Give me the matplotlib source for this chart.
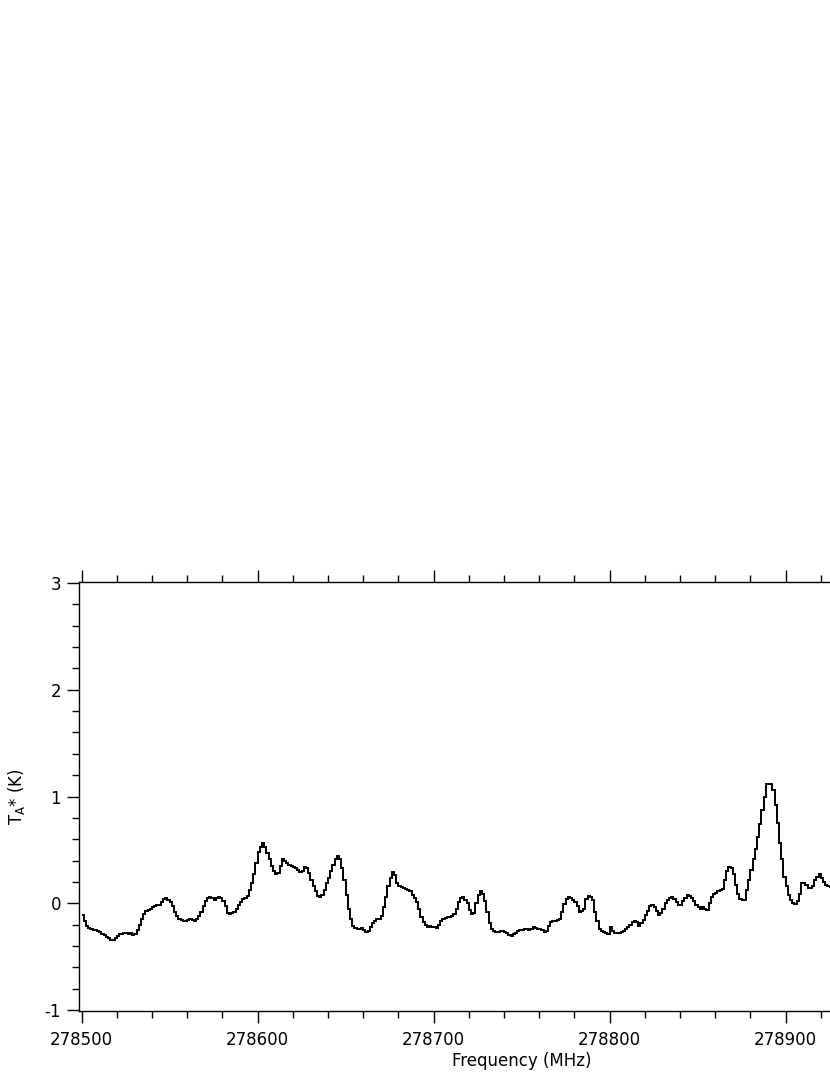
import numpy as np
import matplotlib.pyplot as plt
from matplotlib.ticker import MultipleLocator, FuncFormatter

plt.rcParams['font.family'] = ['DejaVu Sans']
plt.rcParams['axes.unicode_minus'] = False

# spectrum: first channel edge (MHz), channel width (MHz), antenna temperature (K)
f_start = 278500.0
chan_width = 1.25
ta = [
    -0.11, -0.17, -0.21, -0.23, -0.24, -0.25, -0.25, -0.26,
    -0.27, -0.29, -0.30, -0.32, -0.33, -0.34, -0.34, -0.33,
    -0.31, -0.29, -0.29, -0.28, -0.28, -0.29, -0.28, -0.30,
    -0.29, -0.25, -0.20, -0.15, -0.10, -0.07, -0.06, -0.05,
    -0.04, -0.03, -0.02, -0.02, 0.01, 0.04, 0.05, 0.03,
    0.01, -0.03, -0.08, -0.12, -0.15, -0.16, -0.17, -0.17,
    -0.16, -0.15, -0.16, -0.17, -0.15, -0.12, -0.08, -0.03,
    0.02, 0.05, 0.06, 0.05, 0.03, 0.05, 0.06, 0.05,
    0.02, -0.03, -0.09, -0.10, -0.09, -0.08, -0.05, -0.02,
    0.01, 0.04, 0.05, 0.07, 0.12, 0.19, 0.27, 0.38,
    0.48, 0.53, 0.56, 0.53, 0.47, 0.41, 0.35, 0.30,
    0.27, 0.28, 0.35, 0.41, 0.40, 0.38, 0.36, 0.35,
    0.34, 0.33, 0.31, 0.29, 0.30, 0.34, 0.33, 0.28,
    0.22, 0.16, 0.11, 0.07, 0.06, 0.08, 0.12, 0.19,
    0.24, 0.30, 0.36, 0.41, 0.44, 0.41, 0.33, 0.22,
    0.08, -0.05, -0.15, -0.21, -0.23, -0.24, -0.24, -0.23,
    -0.25, -0.27, -0.26, -0.22, -0.19, -0.17, -0.15, -0.15,
    -0.12, -0.04, 0.06, 0.16, 0.24, 0.29, 0.26, 0.19,
    0.16, 0.15, 0.14, 0.13, 0.12, 0.11, 0.08, 0.05,
    0.01, -0.05, -0.13, -0.18, -0.20, -0.22, -0.21, -0.22,
    -0.22, -0.23, -0.20, -0.17, -0.15, -0.14, -0.13, -0.13,
    -0.12, -0.10, -0.05, 0.01, 0.05, 0.06, 0.03, 0.00,
    -0.06, -0.10, -0.09, 0.00, 0.08, 0.11, 0.09, 0.02,
    -0.08, -0.19, -0.24, -0.26, -0.27, -0.27, -0.26, -0.26,
    -0.27, -0.28, -0.30, -0.31, -0.29, -0.28, -0.26, -0.25,
    -0.25, -0.24, -0.24, -0.25, -0.24, -0.22, -0.23, -0.24,
    -0.24, -0.25, -0.27, -0.26, -0.21, -0.18, -0.17, -0.17,
    -0.16, -0.15, -0.08, -0.01, 0.04, 0.06, 0.05, 0.03,
    0.01, -0.03, -0.08, -0.07, -0.05, 0.04, 0.07, 0.06,
    0.03, -0.08, -0.17, -0.24, -0.26, -0.27, -0.28, -0.29,
    -0.22, -0.26, -0.28, -0.28, -0.28, -0.27, -0.26, -0.24,
    -0.22, -0.20, -0.18, -0.17, -0.18, -0.21, -0.19, -0.16,
    -0.11, -0.07, -0.03, -0.02, -0.04, -0.07, -0.11, -0.09,
    -0.05, 0.00, 0.03, 0.05, 0.06, 0.04, 0.01, -0.02,
    -0.02, 0.02, 0.05, 0.08, 0.07, 0.05, 0.02, -0.02,
    -0.04, -0.05, -0.04, -0.05, -0.06, 0.00, 0.06, 0.09,
    0.10, 0.11, 0.12, 0.13, 0.22, 0.30, 0.34, 0.33,
    0.27, 0.17, 0.09, 0.04, 0.03, 0.03, 0.12, 0.22,
    0.31, 0.41, 0.51, 0.62, 0.74, 0.87, 1.00, 1.12,
    1.12, 1.12, 1.06, 0.92, 0.75, 0.56, 0.41, 0.25,
    0.16, 0.08, 0.03, 0.00, -0.01, 0.02, 0.09, 0.19,
    0.19, 0.17, 0.14, 0.14, 0.16, 0.22, 0.25, 0.27,
    0.24, 0.20, 0.17, 0.16, 0.15, 0.15, 0.15, 0.15,
]

ta = np.array(ta)
edges = f_start + chan_width * np.arange(len(ta) + 1)

fig = plt.figure(figsize=(8.3, 10.75), dpi=100)
# the panel runs to 279000 MHz, the right part is cut off the page
ax = fig.add_axes([79 / 830, 1 - 1011 / 1075, 886 / 830, 429 / 1075])

ax.stairs(ta, edges, baseline=None, color='black', lw=1.4)

ax.set_xlim(278498.5, 279001.9)
ax.set_ylim(-1.01, 3.01)

ax.xaxis.set_major_locator(MultipleLocator(100))
ax.xaxis.set_minor_locator(MultipleLocator(20))
ax.yaxis.set_major_locator(MultipleLocator(1))
ax.yaxis.set_minor_locator(MultipleLocator(0.2))
# label past the page edge would only be clipped, leave it blank
ax.xaxis.set_major_formatter(FuncFormatter(lambda v, p: '%d' % v if v < 278950 else ''))

ax.tick_params(which='both', direction='out', top=True, right=False,
               labeltop=False, width=1.0, colors='black', labelsize=12)
ax.tick_params(axis='x', which='major', length=8.5, pad=6)
ax.tick_params(axis='x', which='minor', length=5)
ax.tick_params(axis='y', which='major', length=9, pad=4)
ax.tick_params(axis='y', which='minor', length=5)

ax.spines['right'].set_visible(False)
for s in ['left', 'bottom', 'top']:
    ax.spines[s].set_linewidth(1.0)

ax.set_xlabel('Frequency (MHz)', fontsize=12, labelpad=2)
ax.set_ylabel(r'T$_{\mathrm{A}}$* (K)', fontsize=12)
ax.yaxis.set_label_coords(-0.059, 0.5)

fig.savefig('out.png', dpi=100)
